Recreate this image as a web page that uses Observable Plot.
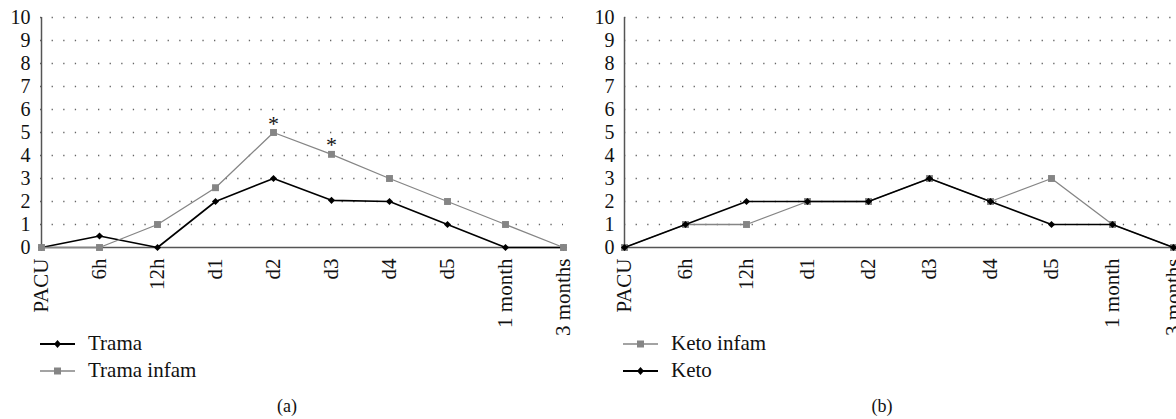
<!DOCTYPE html>
<html><head><meta charset="utf-8">
<script src="https://cdn.jsdelivr.net/npm/d3@7"></script>
<script src="https://cdn.jsdelivr.net/npm/@observablehq/plot@0.6"></script>
<style>
body{margin:0;background:#fff;font-family:"Liberation Serif","DejaVu Serif",serif;}
#wrap{position:relative;width:1176px;height:419px;overflow:hidden;background:#fff;}
.panel{position:absolute;top:0;}
.legend{position:absolute;font-size:21px;color:#111;}
.legend .row{display:flex;align-items:center;height:27px;white-space:nowrap;}
.legend svg{margin-right:13px;}
.caption{position:absolute;font-size:18px;line-height:20px;transform:translateX(-50%);color:#111;}
</style></head><body><div id="wrap"></div>
<script>
// ---- data ----
const times = ["PACU","6h","12h","d1","d2","d3","d4","d5","1 month","3 months"];
const trama = [0,0.5,0,2,3,2.05,2,1,0,0];
const tramaInfam = [0,0,1,2.6,5,4.05,3,2,1,0];
const tramaStars = ["d2","d3"];
const ketoInfam = [0,1,1,2,2,3,2,3,1,0];
const keto = [0,1,2,2,2,3,2,1,1,0];
const yTicks = [0,1,2,3,4,5,6,7,8,9,10];

const BLACK = "#000", GRAY = "#858585";
const FONT = '"Liberation Serif","DejaVu Serif",serif';

function rowsOf(values){ return times.map((t,i)=>({time:t, value:values[i]})); }

function seriesMarks(values, color, symbol){
  const rows = rowsOf(values);
  const isGray = color === GRAY;
  return [
    Plot.line(rows, {x:"time", y:"value", stroke:color, strokeWidth: isGray ? 1.3 : 1.6}),
    Plot.dot(rows, {x:"time", y:"value", symbol, fill:color, stroke:"none", r: isGray ? 3.9 : 3.2})
  ];
}

function panel({left, width, marginLeft, marginRight, series, stars, starValues}){
  const marks = [
    Plot.ruleY(yTicks.filter(d=>d>0), {stroke:"#666", strokeWidth:1.3, strokeDasharray:"1.3,10.3"}),
    Plot.axisY({ticks:yTicks, tickSize:0, tickPadding:10, fontSize:20, tickFormat:d=>String(d), fill:"#111"}),
    Plot.axisX({tickSize:0, tickPadding:11, tickRotate:-90, fontSize:21, fill:"#111"}),
    Plot.ruleX([times[0]], {stroke:"#555", strokeWidth:1.5}),
    Plot.ruleY([0], {stroke:"#555", strokeWidth:1.5})
  ];
  for (const s of series) marks.push(...seriesMarks(s.values, s.color, s.symbol));
  if (stars) marks.push(Plot.text(stars, {x:d=>d, y:d=>starValues[times.indexOf(d)], text:()=>"*", dy:-9, fontSize:22, fill:"#111"}));
  const p = Plot.plot({
    width, height:345,
    marginTop:17, marginBottom:98, marginLeft, marginRight,
    x:{type:"point", domain:times, padding:0, label:null},
    y:{domain:[0,10], label:null},
    style:{fontFamily:FONT, overflow:"visible", background:"transparent"},
    marks
  });
  const d = document.createElement("div");
  d.className = "panel";
  d.style.left = left + "px";
  d.style.width = width + "px";
  d.appendChild(p);
  document.getElementById("wrap").appendChild(d);
}

function swatch(color, symbol){
  const w = 35, h = 14;
  let m;
  if (symbol === "square") m = `<rect x="${w/2-3.5}" y="${h/2-3.5}" width="7" height="7" fill="${color}"/>`;
  else m = `<path d="M${w/2},${h/2-4}L${w/2+3.5},${h/2}L${w/2},${h/2+4}L${w/2-3.5},${h/2}Z" fill="${color}"/>`;
  return `<svg width="${w}" height="${h}"><line x1="0" x2="${w}" y1="${h/2}" y2="${h/2}" stroke="${color}" stroke-width="${color===GRAY?1.5:1.8}"/>${m}</svg>`;
}

function legend(left, top, items){
  const d = document.createElement("div");
  d.className = "legend";
  d.style.left = left + "px"; d.style.top = top + "px";
  d.innerHTML = items.map(it=>`<div class="row">${swatch(it.color, it.symbol)}<span>${it.name}</span></div>`).join("");
  document.getElementById("wrap").appendChild(d);
}

function caption(x, top, text){
  const d = document.createElement("div");
  d.className = "caption";
  d.style.left = x + "px"; d.style.top = top + "px";
  d.textContent = text;
  document.getElementById("wrap").appendChild(d);
}

// panel (a): black drawn first, gray on top
panel({left:0, width:588, marginLeft:40, marginRight:25,
  series:[{values:trama, color:BLACK, symbol:"diamond2"},{values:tramaInfam, color:GRAY, symbol:"square"}],
  stars:tramaStars, starValues:tramaInfam});
// panel (b): gray drawn first, black on top
panel({left:588, width:588, marginLeft:36, marginRight:3,
  series:[{values:ketoInfam, color:GRAY, symbol:"square"},{values:keto, color:BLACK, symbol:"diamond2"}]});

legend(40, 330, [{name:"Trama", color:BLACK, symbol:"diamond"},{name:"Trama infam", color:GRAY, symbol:"square"}]);
legend(623, 330, [{name:"Keto infam", color:GRAY, symbol:"square"},{name:"Keto", color:BLACK, symbol:"diamond"}]);
caption(287, 396, "(a)");
caption(882, 396, "(b)");
</script></body></html>
